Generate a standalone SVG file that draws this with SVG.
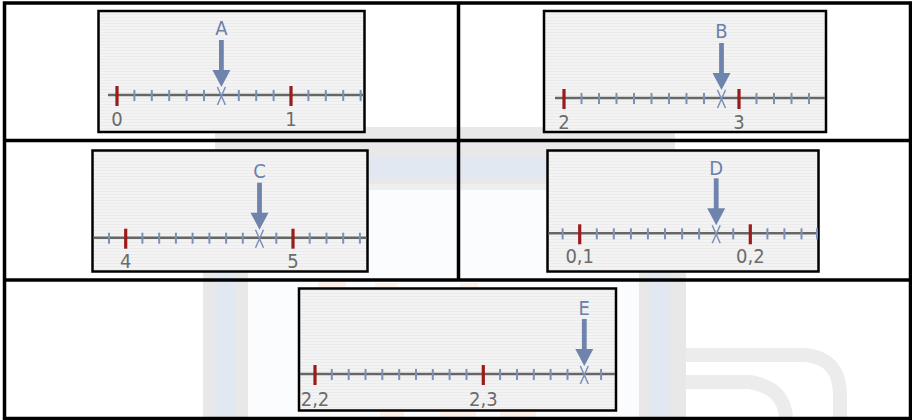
<svg xmlns="http://www.w3.org/2000/svg" xmlns:xlink="http://www.w3.org/1999/xlink" width="912" height="420" viewBox="0 0 912 420">
<style>
.panel{fill:url(#stripe);stroke:#000;stroke-width:2.5}
.axis{stroke:#666;stroke-width:2.6}
.grid{fill:none;stroke:#000;stroke-width:3.5}
.lbl{fill:#6c80a9;font-family:"DejaVu Sans Condensed","DejaVu Sans",sans-serif;font-stretch:condensed;font-size:20px;text-anchor:middle}
.num{fill:#6b6b6b;font-family:"DejaVu Sans Condensed","DejaVu Sans",sans-serif;font-stretch:condensed;font-size:20px;text-anchor:middle}
.wg{fill:#e8e8e8}
.wb{fill:#e2e8f2}
</style>
<defs>
<pattern id="stripe" width="4" height="3" patternUnits="userSpaceOnUse">
<rect width="4" height="3" fill="#f3f3f3"/>
<rect y="2" width="4" height="1" fill="#ebebeb"/>
</pattern>
<line id="bt" x1="0" y1="-5" x2="0" y2="6" stroke="#7a90b8" stroke-width="2"/>
<line id="rt" x1="0" y1="-9" x2="0" y2="11" stroke="#9b1a1a" stroke-width="3.2"/>
<g id="arr">
<rect x="-2.4" y="-55" width="4.8" height="31" fill="#6f84ad"/>
<polygon points="-9,-25 9,-25 0,-8" fill="#6f84ad"/>
<path d="M-4,-8 Q0,1 4,10 M4,-8 Q0,1 -4,10" fill="none" stroke="#7a90b8" stroke-width="1.5"/>
</g>
</defs>
<rect width="912" height="420" fill="#fff"/>
<g id="watermark">
<rect class="wg" x="215" y="127" width="460" height="30"/>
<rect class="wb" x="215" y="157" width="460" height="20"/>
<rect class="wg" x="215" y="177" width="460" height="7"/>
<rect x="215" y="184" width="460" height="6" fill="#eeeeee"/>
<rect x="248" y="190" width="391" height="230" fill="#fbfcfe"/>
<rect class="wg" x="203" y="190" width="12" height="230"/>
<rect class="wb" x="215" y="190" width="20" height="230"/>
<rect class="wg" x="235" y="190" width="13" height="230"/>
<rect class="wg" x="639" y="190" width="11" height="230"/>
<rect class="wb" x="650" y="190" width="20" height="230"/>
<rect class="wg" x="670" y="190" width="16" height="230"/>
<path d="M686 355 H805 Q840 358 840 395 V420" fill="none" stroke="#ececec" stroke-width="14"/>
<path d="M686 382 H750 Q786 388 786 420" fill="none" stroke="#ececec" stroke-width="14"/>
<rect x="318" y="281" width="28" height="9" fill="#fcf0e8"/>
<rect x="375" y="283" width="22" height="8" fill="#fcf2ec"/>
<rect x="460" y="283" width="18" height="8" fill="#fcf2ec"/>
<rect x="380" y="412" width="24" height="6" fill="#fcf0e8"/>
<rect x="440" y="412" width="36" height="6" fill="#fcf0e8"/>
<rect x="500" y="412" width="36" height="6" fill="#fcf0e8"/>
</g>
<g id="table">
<rect class="grid" x="4.5" y="3" width="906" height="415.5"/>
<line class="grid" x1="4.5" y1="140.5" x2="910.5" y2="140.5"/>
<line class="grid" x1="4.5" y1="280" x2="910.5" y2="280"/>
<line class="grid" x1="458.5" y1="3" x2="458.5" y2="280"/>
</g>
<g id="panelA">
<rect class="panel" x="98.5" y="11" width="266" height="121"/>
<line class="axis" x1="108" y1="95" x2="363.5" y2="95"/>
<use xlink:href="#bt" x="134.4" y="95"/><use xlink:href="#bt" x="151.8" y="95"/><use xlink:href="#bt" x="169.2" y="95"/><use xlink:href="#bt" x="186.6" y="95"/><use xlink:href="#bt" x="204" y="95"/><use xlink:href="#bt" x="238.8" y="95"/><use xlink:href="#bt" x="256.2" y="95"/><use xlink:href="#bt" x="273.6" y="95"/><use xlink:href="#bt" x="308.4" y="95"/><use xlink:href="#bt" x="325.8" y="95"/><use xlink:href="#bt" x="343.2" y="95"/><use xlink:href="#bt" x="360.6" y="95"/>
<use xlink:href="#rt" x="117" y="95"/><use xlink:href="#rt" x="291" y="95"/>
<use xlink:href="#arr" x="221.4" y="95"/>
<text class="lbl" x="221.4" y="35">A</text>
<text class="num" x="117" y="126">0</text>
<text class="num" x="291" y="126">1</text>
</g>
<g id="panelB">
<rect class="panel" x="544" y="11" width="282" height="121"/>
<line class="axis" x1="555" y1="98" x2="825" y2="98"/>
<use xlink:href="#bt" x="581.5" y="98"/><use xlink:href="#bt" x="599" y="98"/><use xlink:href="#bt" x="616.5" y="98"/><use xlink:href="#bt" x="634" y="98"/><use xlink:href="#bt" x="651.5" y="98"/><use xlink:href="#bt" x="669" y="98"/><use xlink:href="#bt" x="686.5" y="98"/><use xlink:href="#bt" x="704" y="98"/><use xlink:href="#bt" x="756.5" y="98"/><use xlink:href="#bt" x="774" y="98"/><use xlink:href="#bt" x="791.5" y="98"/><use xlink:href="#bt" x="809" y="98"/>
<use xlink:href="#rt" x="564" y="98"/><use xlink:href="#rt" x="739" y="98"/>
<use xlink:href="#arr" x="721.5" y="98"/>
<text class="lbl" x="721.5" y="38">B</text>
<text class="num" x="564" y="129">2</text>
<text class="num" x="739" y="129">3</text>
</g>
<g id="panelC">
<rect class="panel" x="92.5" y="150.5" width="275" height="121"/>
<line class="axis" x1="93.5" y1="237.7" x2="366.5" y2="237.7"/>
<use xlink:href="#bt" x="109" y="237.7"/><use xlink:href="#bt" x="142.4" y="237.7"/><use xlink:href="#bt" x="159.2" y="237.7"/><use xlink:href="#bt" x="175.9" y="237.7"/><use xlink:href="#bt" x="192.6" y="237.7"/><use xlink:href="#bt" x="209.4" y="237.7"/><use xlink:href="#bt" x="226.1" y="237.7"/><use xlink:href="#bt" x="242.8" y="237.7"/><use xlink:href="#bt" x="276.3" y="237.7"/><use xlink:href="#bt" x="309.7" y="237.7"/><use xlink:href="#bt" x="326.5" y="237.7"/><use xlink:href="#bt" x="343.2" y="237.7"/><use xlink:href="#bt" x="359.9" y="237.7"/>
<use xlink:href="#rt" x="125.7" y="237.7"/><use xlink:href="#rt" x="293" y="237.7"/>
<use xlink:href="#arr" x="259.5" y="237.7"/>
<text class="lbl" x="259.5" y="178">C</text>
<text class="num" x="125.7" y="268">4</text>
<text class="num" x="293" y="268">5</text>
</g>
<g id="panelD">
<rect class="panel" x="547.5" y="150.5" width="271" height="121"/>
<line class="axis" x1="548.5" y1="233.3" x2="817.5" y2="233.3"/>
<use xlink:href="#bt" x="562.6" y="233.3"/><use xlink:href="#bt" x="596.8" y="233.3"/><use xlink:href="#bt" x="613.8" y="233.3"/><use xlink:href="#bt" x="630.9" y="233.3"/><use xlink:href="#bt" x="647.9" y="233.3"/><use xlink:href="#bt" x="665" y="233.3"/><use xlink:href="#bt" x="682.1" y="233.3"/><use xlink:href="#bt" x="699.1" y="233.3"/><use xlink:href="#bt" x="733.2" y="233.3"/><use xlink:href="#bt" x="767.4" y="233.3"/><use xlink:href="#bt" x="784.4" y="233.3"/><use xlink:href="#bt" x="801.5" y="233.3"/><use xlink:href="#bt" x="817" y="233.3"/>
<use xlink:href="#rt" x="579.7" y="233.3"/><use xlink:href="#rt" x="750.3" y="233.3"/>
<use xlink:href="#arr" x="716.2" y="233.3"/>
<text class="lbl" x="716.2" y="175">D</text>
<text class="num" x="579.7" y="263">0,1</text>
<text class="num" x="750.3" y="263">0,2</text>
</g>
<g id="panelE">
<rect class="panel" x="299" y="288.5" width="317" height="122"/>
<line class="axis" x1="300" y1="374" x2="615" y2="374"/>
<use xlink:href="#bt" x="331.8" y="374"/><use xlink:href="#bt" x="348.7" y="374"/><use xlink:href="#bt" x="365.5" y="374"/><use xlink:href="#bt" x="382.3" y="374"/><use xlink:href="#bt" x="399.2" y="374"/><use xlink:href="#bt" x="416" y="374"/><use xlink:href="#bt" x="432.8" y="374"/><use xlink:href="#bt" x="449.6" y="374"/><use xlink:href="#bt" x="466.5" y="374"/><use xlink:href="#bt" x="500.1" y="374"/><use xlink:href="#bt" x="517" y="374"/><use xlink:href="#bt" x="533.8" y="374"/><use xlink:href="#bt" x="550.6" y="374"/><use xlink:href="#bt" x="567.5" y="374"/><use xlink:href="#bt" x="601.1" y="374"/>
<use xlink:href="#rt" x="315" y="374"/><use xlink:href="#rt" x="483.3" y="374"/>
<use xlink:href="#arr" x="584.3" y="374"/>
<text class="lbl" x="584.3" y="315">E</text>
<text class="num" x="315" y="406">2,2</text>
<text class="num" x="483.3" y="406">2,3</text>
</g>
</svg>
